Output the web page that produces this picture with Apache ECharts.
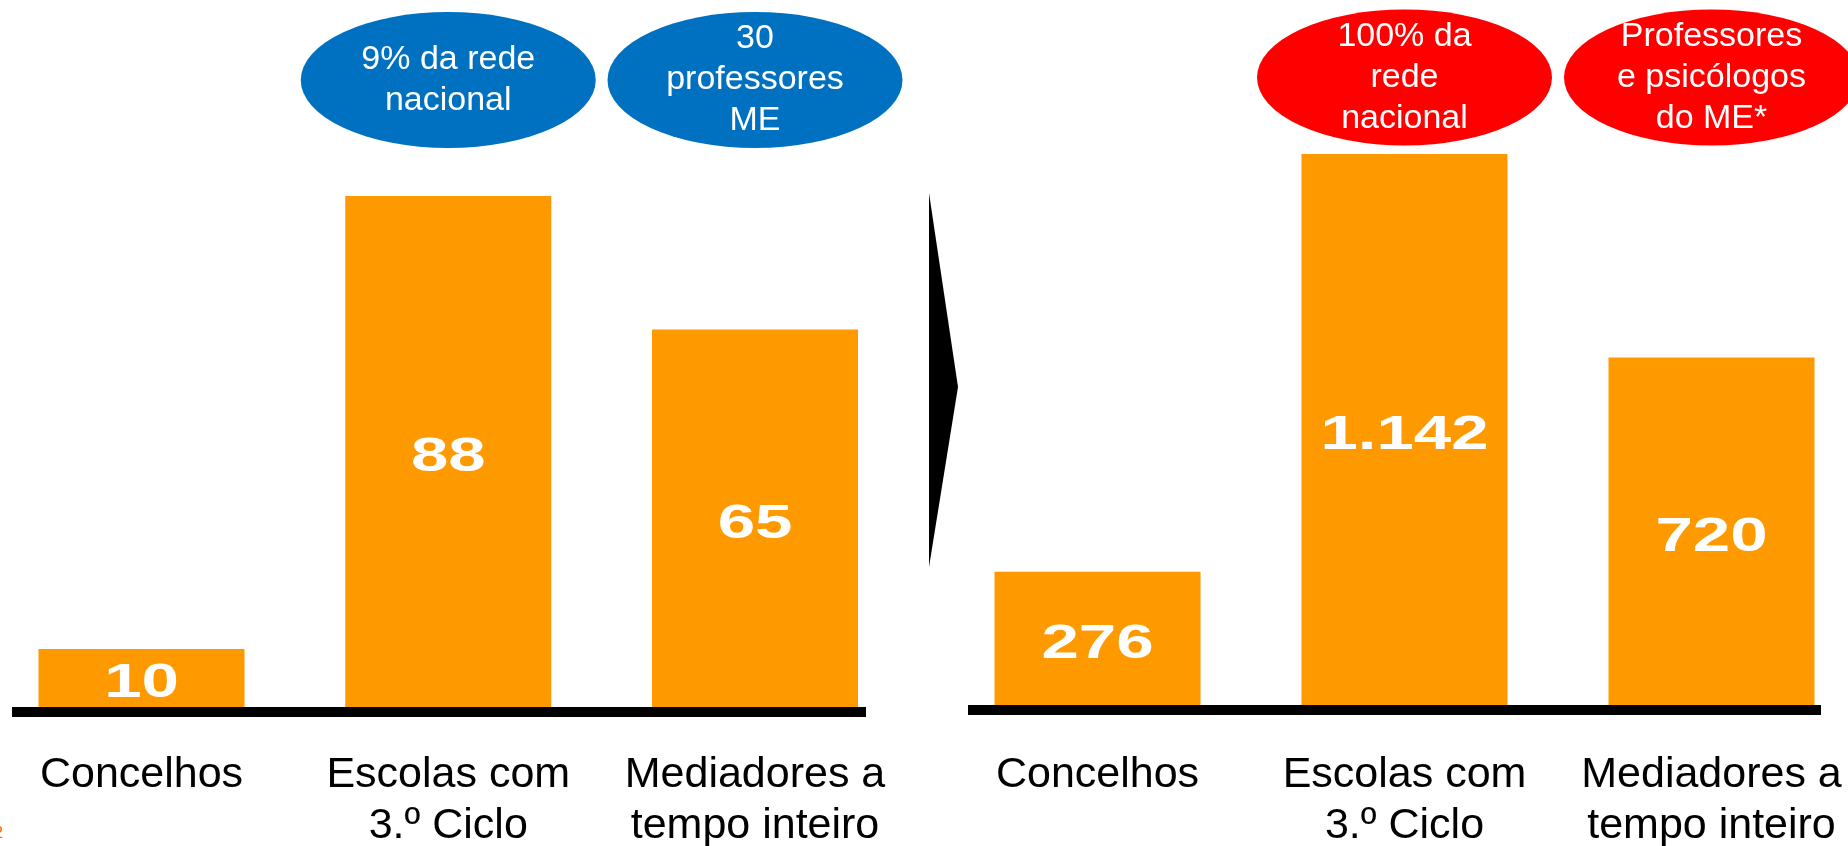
<!DOCTYPE html>
<html>
<head>
<meta charset="utf-8">
<script src="https://cdn.jsdelivr.net/npm/echarts@6/dist/echarts.min.js"></script>
<style>
  html, body { margin: 0; padding: 0; background: #ffffff; }
  #chart { width: 1848px; height: 846px; }
</style>
</head>
<body>
<div id="chart"></div>
<script>
// ---- data ----
const categories = ['Concelhos', 'Escolas com\n3.º Ciclo', 'Mediadores a\ntempo inteiro'];
const valuesBefore = [10, 88, 65];
const valuesAfter = [276, 1142, 720];
const notesBefore = ['', '9% da rede\nnacional', '30\nprofessores\nME'];
const notesAfter = ['', '100% da\nrede\nnacional', 'Professores\ne psicólogos\ndo ME*'];

// ---- layout ----
const ORANGE = '#FF9900';
const BLUE = '#0070C0';
const RED = '#FF0000';
const leftPxPerUnit = 5.807, leftMax = 120, leftBase = 707;
const rightPxPerUnit = 0.4825, rightMax = 1400, rightBase = 705;
const leftNoteY = (leftBase - 80) / leftPxPerUnit;
const rightNoteY = (rightBase - 77.5) / rightPxPerUnit;
const FONT = '"Liberation Sans", Arial, Helvetica, sans-serif';

function fmt(v) { return String(v).replace(/\B(?=(\d{3})+(?!\d))/g, '.'); }

function noteData(notes, y) {
  const out = [];
  notes.forEach((n, i) => { if (n) out.push({ value: [i, y], note: n }); });
  return out;
}

const catAxis = (gridIndex, margin) => ({
  type: 'category', gridIndex, data: categories, boundaryGap: false,
  axisLine: { show: false }, axisTick: { show: false }, splitLine: { show: false },
  axisLabel: {
    interval: 0, margin, color: '#000', fontFamily: FONT,
    fontSize: 43, lineHeight: 51
  }
});
const hiddenVal = (gridIndex, max) => ({
  type: 'value', gridIndex, min: 0, max, show: false, splitLine: { show: false }
});
const baseAxis = (gridIndex) => ({
  type: 'value', gridIndex, min: 0, max: 1,
  axisLine: { show: true, onZero: false, lineStyle: { color: '#000', width: 10, cap: 'butt' } },
  axisTick: { show: false }, axisLabel: { show: false }, splitLine: { show: false }
});

const barSeries = (ai, values) => ({
  type: 'bar', xAxisIndex: ai, yAxisIndex: ai, data: values, barWidth: 206,
  itemStyle: { color: ORANGE }, silent: true, z: 2
});
const valueLabels = (ai, values) => ({
  type: 'custom', xAxisIndex: ai, yAxisIndex: ai, silent: true, z: 4,
  data: values.map((v, i) => [i, v]),
  renderItem: (params, api) => {
    const v = api.value(1);
    const pt = api.coord([api.value(0), v / 2]);
    return {
      type: 'text', x: pt[0], y: pt[1] + 6, scaleX: 1.4,
      style: {
        text: fmt(v), fill: '#fff', fontFamily: FONT, fontWeight: 'bold', fontSize: 48,
        align: 'center', verticalAlign: 'middle'
      }
    };
  }
});
const noteSeries = (ai, notes, y, color) => ({
  type: 'scatter', xAxisIndex: ai, yAxisIndex: ai, clip: false, silent: true,
  symbol: 'circle', symbolSize: [295, 136],
  itemStyle: { color, opacity: 1 },
  data: noteData(notes, y),
  label: {
    show: true, position: 'inside', color: '#fff',
    fontFamily: FONT, fontSize: 34, lineHeight: 41,
    formatter: p => p.data.note
  },
  z: 5
});

const chart = echarts.init(document.getElementById('chart'), null, { renderer: 'canvas' });
chart.setOption({
  animation: false,
  backgroundColor: '#fff',
  grid: [
    { left: 141.5, width: 613.5, top: leftBase - leftMax * leftPxPerUnit, height: leftMax * leftPxPerUnit, outerBoundsMode: 'none', containLabel: false },
    { left: 12, width: 854, top: 0, height: 712, outerBoundsMode: 'none', containLabel: false },
    { left: 1097.5, width: 614, top: rightBase - rightMax * rightPxPerUnit, height: rightMax * rightPxPerUnit, outerBoundsMode: 'none', containLabel: false },
    { left: 968, width: 853, top: 0, height: 710, outerBoundsMode: 'none', containLabel: false }
  ],
  xAxis: [catAxis(0, 42.5), baseAxis(1), catAxis(2, 44.5), baseAxis(3)],
  yAxis: [hiddenVal(0, leftMax), hiddenVal(1, 1), hiddenVal(2, rightMax), hiddenVal(3, 1)],
  series: [
    barSeries(0, valuesBefore),
    barSeries(2, valuesAfter),
    valueLabels(0, valuesBefore),
    valueLabels(2, valuesAfter),
    noteSeries(0, notesBefore, leftNoteY, BLUE),
    noteSeries(2, notesAfter, rightNoteY, RED)
  ],
  graphic: [
    {
      type: 'polygon', silent: true,
      shape: { points: [[929, 193], [958, 387], [929, 567]] },
      style: { fill: '#000' }
    },
    {
      type: 'text', left: -6, top: 826, silent: true,
      style: { text: '2', fill: '#FF6600', fontSize: 16, fontFamily: FONT }
    }
  ]
});
</script>
</body>
</html>
